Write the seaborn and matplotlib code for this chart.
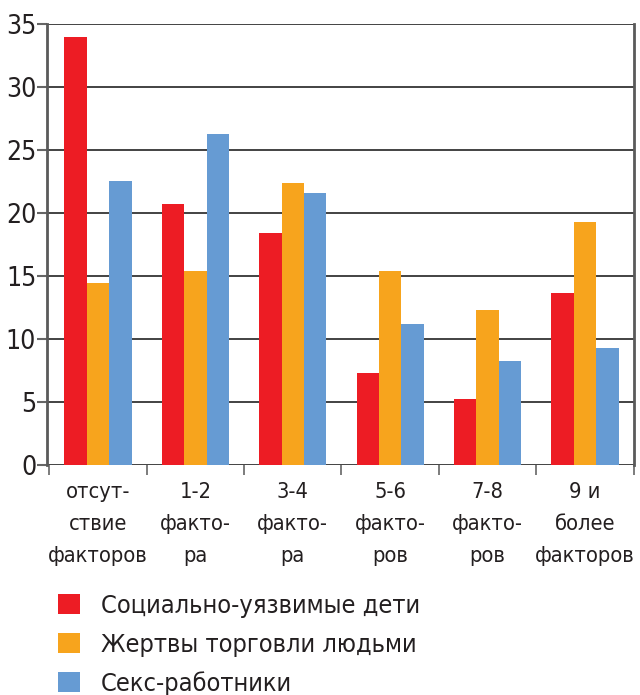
import numpy as np
import pandas as pd
import matplotlib
matplotlib.use("Agg")
import matplotlib.pyplot as plt
import seaborn as sns
from matplotlib.patches import Patch

categories = ["отсут-\nствие\nфакторов", "1-2\nфакто-\nра", "3-4\nфакто-\nра",
              "5-6\nфакто-\nров", "7-8\nфакто-\nров", "9 и\nболее\nфакторов"]
series = ["Социально-уязвимые дети", "Жертвы торговли людьми", "Секс-работники"]
vals_children = [34.0, 20.7, 18.4, 7.3, 5.3, 13.7]
vals_victims = [14.5, 15.4, 22.4, 15.4, 12.3, 19.3]
vals_sex = [22.6, 26.3, 21.6, 11.2, 8.3, 9.3]
yticks = [0, 5, 10, 15, 20, 25, 30, 35]
colors = ["#ED1C24", "#F7A41D", "#669BD3"]

df = pd.DataFrame({
    "cat": categories * 3,
    "series": [series[0]] * 6 + [series[1]] * 6 + [series[2]] * 6,
    "val": vals_children + vals_victims + vals_sex,
})

sns.set_style("white")
plt.rcParams['font.family'] = ['DejaVu Sans']
plt.rcParams['font.stretch'] = 'condensed'

txt = "#231F20"

fig = plt.figure(figsize=(6.4, 6.95), dpi=100)
ax = fig.add_axes([0.074, 0.3305, 0.916, 0.6345])
sns.barplot(data=df, x="cat", y="val", hue="series", palette=colors,
            width=0.69, gap=0, ax=ax, legend=False, saturation=1,
            order=categories, hue_order=series, linewidth=0)

ax.set_ylim(0, 35)
ax.set_xlim(-0.52, 5.5)
ax.set_yticks(yticks)
ax.set_yticklabels([str(t) for t in yticks], fontsize=19, color=txt)
ax.yaxis.grid(True, color="#222222", linewidth=1.2, zorder=0)
ax.set_axisbelow(True)
for b in ax.patches:
    b.set_zorder(2)
ax.tick_params(axis='y', length=7, width=1.5, color="#666666", pad=1, direction='out', left=True)

ax.set_xticks(np.arange(6))
ax.set_xticklabels(categories, fontsize=15.7, color=txt, linespacing=1.76)
ax.tick_params(axis='x', which='major', length=0, pad=12)
ax.set_xticks(np.arange(-0.5, 6), minor=True)
ax.tick_params(axis='x', which='minor', length=7, width=1.2, color="#666666", direction='out', bottom=True)

for s in ["top", "bottom"]:
    ax.spines[s].set_visible(False)
for s in ["left", "right"]:
    ax.spines[s].set_visible(True)
    ax.spines[s].set_color("#5a5a5a")
    ax.spines[s].set_linewidth(2)
ax.set_xlabel("")
ax.set_ylabel("")

handles = [Patch(facecolor=c, edgecolor='none') for c in colors]
fig.legend(handles, series, loc="upper left", bbox_to_anchor=(0.075, 0.16),
           frameon=False, fontsize=18.2, handlelength=0.85, handleheight=0.85,
           handletextpad=0.85, labelspacing=0.58, labelcolor=txt, borderaxespad=0)

fig.savefig("out.png", dpi=100)
